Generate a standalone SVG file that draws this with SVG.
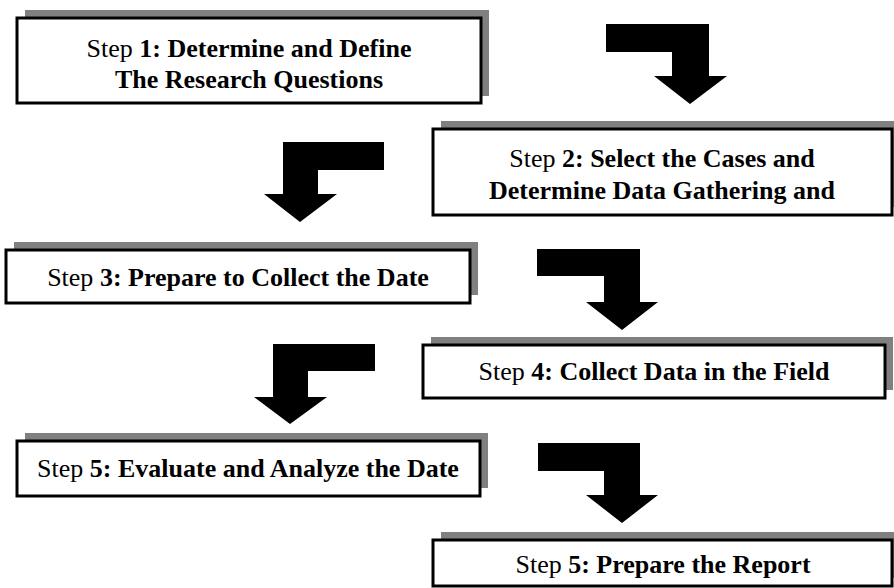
<svg xmlns="http://www.w3.org/2000/svg" width="894" height="588" viewBox="0 0 894 588">
<style>
.shadow{fill:#808080;stroke:none}
.box{fill:#fff;stroke:#000;stroke-width:3}
.t{font-family:'Liberation Serif','Times New Roman',serif;font-size:26px;fill:#000;text-anchor:middle}
.b{font-weight:bold}
.arrow{fill:#000;stroke:none}
</style>
<rect width="894" height="588" fill="#fff"/>
<g id="connectors">
<path class="arrow" d="M606,24 H709 V76 H727 L690,104 L654,76 H672 V52 H606 Z"/>
<path class="arrow" d="M384,142 H283 V194 H264 L300,222 L337,194 H318 V170 H384 Z"/>
<path class="arrow" d="M537,249 H640 V302 H658 L622,330 L586,302 H604 V276 H537 Z"/>
<path class="arrow" d="M375,344 H273 V397 H254 L290,424 L327,397 H308 V371 H375 Z"/>
<path class="arrow" d="M538,443 H640 V495 H658 L622,523 L586,495 H604 V471 H538 Z"/>
</g>
<g id="step1">
<rect class="shadow" x="25" y="10" width="464" height="86"/>
<rect class="box" x="17" y="18" width="464" height="85"/>
<text class="t" font-family="Liberation Serif, serif" x="249" y="57">Step <tspan class="b">1: Determine and Define</tspan></text>
<text class="t b" font-family="Liberation Serif, serif" x="249" y="88">The Research Questions</text>
</g>
<g id="step2">
<rect class="shadow" x="441" y="121" width="459" height="86"/>
<rect class="box" x="433" y="129" width="459" height="86"/>
<text class="t" font-family="Liberation Serif, serif" x="662" y="167">Step <tspan class="b">2: Select the Cases and</tspan></text>
<text class="t b" font-family="Liberation Serif, serif" x="662" y="199">Determine Data Gathering and</text>
</g>
<g id="step3">
<rect class="shadow" x="14" y="242" width="464" height="53"/>
<rect class="box" x="6" y="250" width="464" height="53"/>
<text class="t" font-family="Liberation Serif, serif" x="238" y="286">Step <tspan class="b">3: Prepare to Collect the Date</tspan></text>
</g>
<g id="step4">
<rect class="shadow" x="431" y="337" width="462" height="53"/>
<rect class="box" x="423" y="345" width="462" height="53"/>
<text class="t" font-family="Liberation Serif, serif" x="654" y="380">Step <tspan class="b">4: Collect Data in the Field</tspan></text>
</g>
<g id="step5">
<rect class="shadow" x="25" y="433" width="463" height="55"/>
<rect class="box" x="17" y="441" width="463" height="55"/>
<text class="t" font-family="Liberation Serif, serif" x="248" y="477">Step <tspan class="b">5: Evaluate and Analyze the Date</tspan></text>
</g>
<g id="step6">
<rect class="shadow" x="441" y="532" width="459" height="46"/>
<rect class="box" x="433" y="540" width="459" height="46"/>
<text class="t" font-family="Liberation Serif, serif" x="663" y="573">Step <tspan class="b">5: Prepare the Report</tspan></text>
</g>
</svg>
